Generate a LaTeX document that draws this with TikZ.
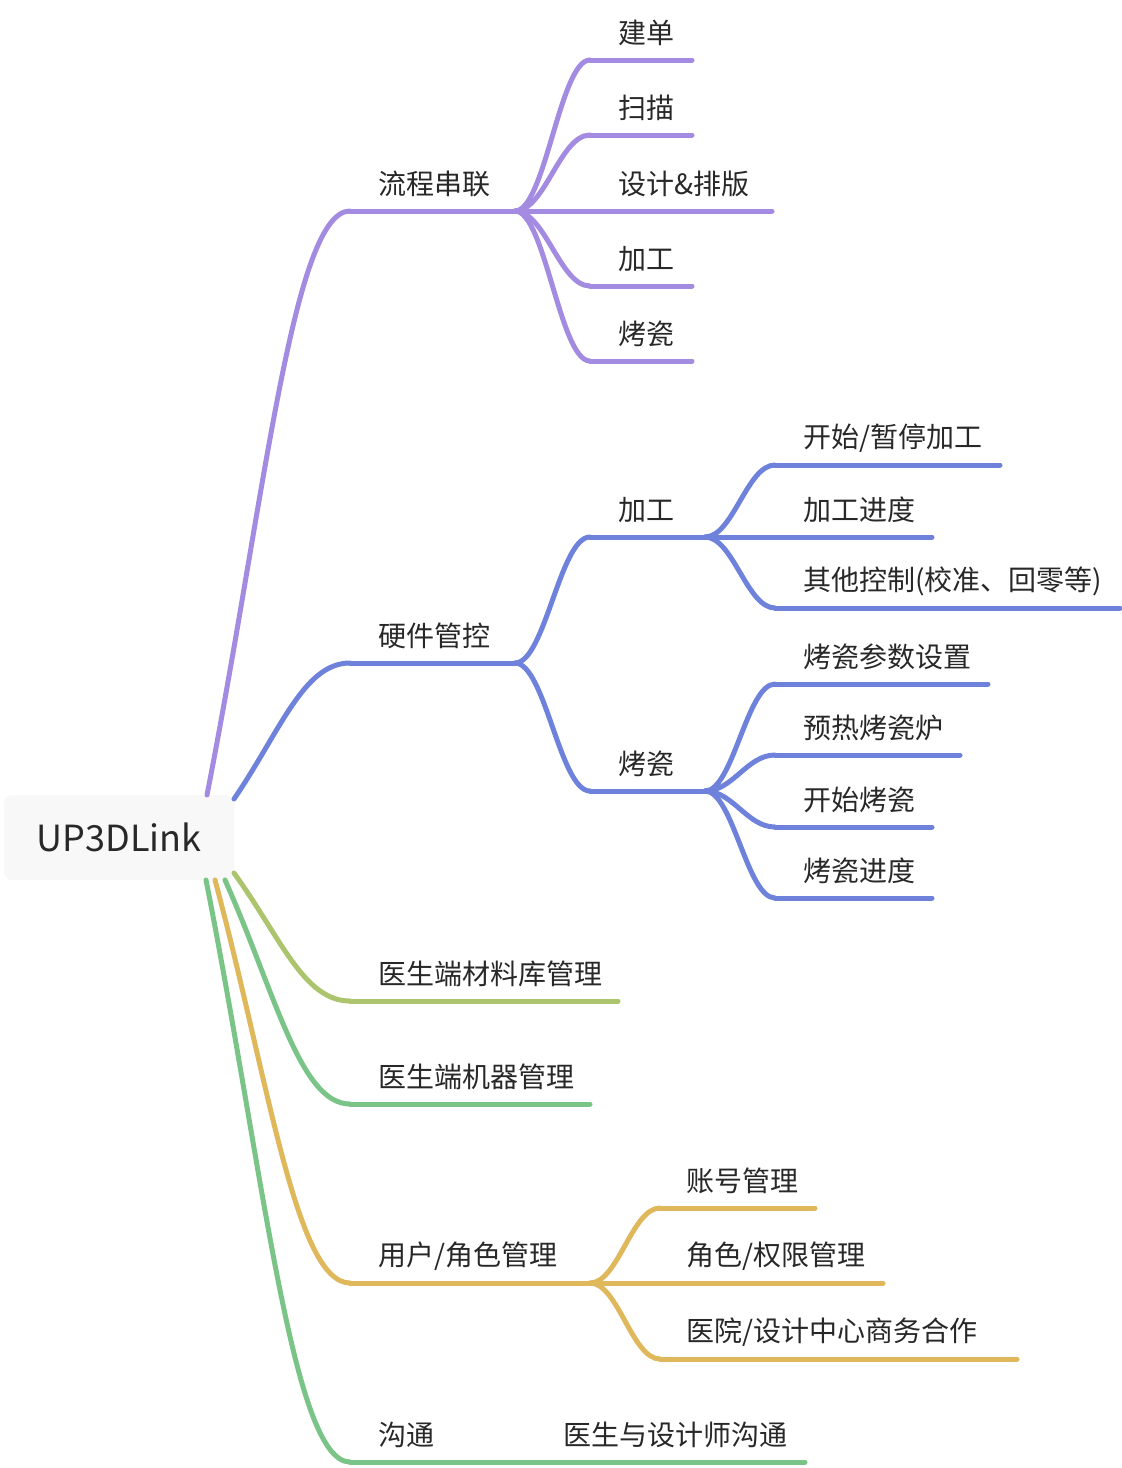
\documentclass[tikz,border=0pt]{standalone}
\usepackage{fontspec}
\setmainfont{Noto Sans CJK SC}
\usetikzlibrary{calc}

\definecolor{lilac}{RGB}{163,139,225}
\definecolor{cobalt}{RGB}{110,130,220}
\definecolor{olive}{RGB}{172,196,110}
\definecolor{mint}{RGB}{122,196,136}
\definecolor{amber}{RGB}{224,184,92}
\definecolor{ink}{RGB}{40,40,40}
\definecolor{paper}{RGB}{248,248,248}

\tikzset{
  topic/.style={anchor=west,inner sep=0pt,text=ink,font=\fontsize{28}{32}\selectfont},
  rootbox/.style={fill=paper,rounded corners=8pt,minimum width=230pt,minimum height=85pt,text=ink,font=\fontsize{36}{40}\selectfont},
  branch/.style={line width=5pt,line cap=round},
}
% root curves leave the box steeply, fork curves leave flat
\newcommand\curl[3]{\draw[branch,#1] let \p1=(#2),\p2=(#3) in (\p1) .. controls ({\x1+0.4*(\x2-\x1)},{\y1+0.5*(\y2-\y1)}) and ({\x1+0.6*(\x2-\x1)},\y2) .. (\p2);}
\newcommand\fork[3]{\draw[branch,#1] let \p1=(#2),\p2=(#3) in (\p1) .. controls ({\x1+0.4*(\x2-\x1)},\y1) and ({\x1+0.6*(\x2-\x1)},\y2) .. (\p2);}

\begin{document}
\begin{tikzpicture}[x=1pt,y=-1pt]
\useasboundingbox (0,0) rectangle (1122,1468);
\node[rootbox] at (119,837.5) (root) {UP3DLink};
\coordinate (r1) at (207,795);
\coordinate (r2) at (234,799);
\coordinate (r3) at (234,873);
\coordinate (r4) at (225,880);
\coordinate (r5) at (215,880);
\coordinate (r6) at (206,880);
% 流程串联
\node[topic] at (378,184) (flow) {流程串联};
\coordinate (flowL) at (350,211);
\coordinate (flowF) at (515,211);
\curl{lilac}{r1}{flowL}
\draw[branch,lilac] (flowL) -- (flowF);
\node[topic] at (618,33) (jd) {建单};
\coordinate (jdL) at (590,60);
\coordinate (jdR) at (692,60);
\fork{lilac}{flowF}{jdL}
\draw[branch,lilac] (jdL) -- (jdR);
\node[topic] at (618,108) (sm) {扫描};
\coordinate (smL) at (590,135);
\coordinate (smR) at (692,135);
\fork{lilac}{flowF}{smL}
\draw[branch,lilac] (smL) -- (smR);
\node[topic] at (618,184) (sj) {设计\&排版};
\coordinate (sjR) at (772,211);
\draw[branch,lilac] (flowF) -- (sjR);
\node[topic] at (618,259) (jg) {加工};
\coordinate (jgL) at (590,286);
\coordinate (jgR) at (692,286);
\fork{lilac}{flowF}{jgL}
\draw[branch,lilac] (jgL) -- (jgR);
\node[topic] at (618,334) (kc) {烤瓷};
\coordinate (kcL) at (590,361);
\coordinate (kcR) at (692,361);
\fork{lilac}{flowF}{kcL}
\draw[branch,lilac] (kcL) -- (kcR);
% 硬件管控
\node[topic] at (378,636) (hw) {硬件管控};
\coordinate (hwL) at (350,663);
\coordinate (hwF) at (515,663);
\curl{cobalt}{r2}{hwL}
\draw[branch,cobalt] (hwL) -- (hwF);
\node[topic] at (618,510) (hjg) {加工};
\coordinate (hjgL) at (590,537);
\coordinate (hjgF) at (705,537);
\fork{cobalt}{hwF}{hjgL}
\draw[branch,cobalt] (hjgL) -- (hjgF);
\node[topic] at (618,764) (hkc) {烤瓷};
\coordinate (hkcL) at (590,791);
\coordinate (hkcF) at (705,791);
\fork{cobalt}{hwF}{hkcL}
\draw[branch,cobalt] (hkcL) -- (hkcF);
\node[topic] at (803,438) (ks) {开始/暂停加工};
\coordinate (ksL) at (775,465);
\coordinate (ksR) at (1000,465);
\fork{cobalt}{hjgF}{ksL}
\draw[branch,cobalt] (ksL) -- (ksR);
\node[topic] at (803,510) (jd2) {加工进度};
\coordinate (jd2R) at (932,537);
\draw[branch,cobalt] (hjgF) -- (jd2R);
\node[topic] at (803,581) (qt) {其他控制(校准、回零等)};
\coordinate (qtL) at (775,608);
\coordinate (qtR) at (1120,608);
\fork{cobalt}{hjgF}{qtL}
\draw[branch,cobalt] (qtL) -- (qtR);
\node[topic] at (803,657) (cs) {烤瓷参数设置};
\coordinate (csL) at (775,684);
\coordinate (csR) at (988,684);
\fork{cobalt}{hkcF}{csL}
\draw[branch,cobalt] (csL) -- (csR);
\node[topic] at (803,728) (yr) {预热烤瓷炉};
\coordinate (yrL) at (775,755);
\coordinate (yrR) at (960,755);
\fork{cobalt}{hkcF}{yrL}
\draw[branch,cobalt] (yrL) -- (yrR);
\node[topic] at (803,800) (kk) {开始烤瓷};
\coordinate (kkL) at (775,827);
\coordinate (kkR) at (932,827);
\fork{cobalt}{hkcF}{kkL}
\draw[branch,cobalt] (kkL) -- (kkR);
\node[topic] at (803,871) (kj) {烤瓷进度};
\coordinate (kjL) at (775,898);
\coordinate (kjR) at (932,898);
\fork{cobalt}{hkcF}{kjL}
\draw[branch,cobalt] (kjL) -- (kjR);
% 医生端
\node[topic] at (378,974) (mat) {医生端材料库管理};
\coordinate (matL) at (350,1001);
\coordinate (matR) at (618,1001);
\curl{olive}{r3}{matL}
\draw[branch,olive] (matL) -- (matR);
\node[topic] at (378,1077) (mach) {医生端机器管理};
\coordinate (machL) at (350,1104);
\coordinate (machR) at (590,1104);
\curl{mint}{r4}{machL}
\draw[branch,mint] (machL) -- (machR);
% 用户/角色管理
\node[topic] at (378,1256) (user) {用户/角色管理};
\coordinate (userL) at (350,1283);
\coordinate (userF) at (590,1283);
\curl{amber}{r5}{userL}
\draw[branch,amber] (userL) -- (userF);
\node[topic] at (686,1181) (zh) {账号管理};
\coordinate (zhL) at (660,1208);
\coordinate (zhR) at (815,1208);
\fork{amber}{userF}{zhL}
\draw[branch,amber] (zhL) -- (zhR);
\node[topic] at (686,1256) (js) {角色/权限管理};
\coordinate (jsR) at (883,1283);
\draw[branch,amber] (userF) -- (jsR);
\node[topic] at (686,1332) (yy) {医院/设计中心商务合作};
\coordinate (yyL) at (660,1359);
\coordinate (yyR) at (1017,1359);
\fork{amber}{userF}{yyL}
\draw[branch,amber] (yyL) -- (yyR);
% 沟通
\node[topic] at (378,1435) (comm) {沟通};
\node[topic] at (563,1435) (gt) {医生与设计师沟通};
\coordinate (commL) at (350,1462);
\coordinate (commR) at (805,1462);
\curl{mint}{r6}{commL}
\draw[branch,mint] (commL) -- (commR);
\end{tikzpicture}
\end{document}
